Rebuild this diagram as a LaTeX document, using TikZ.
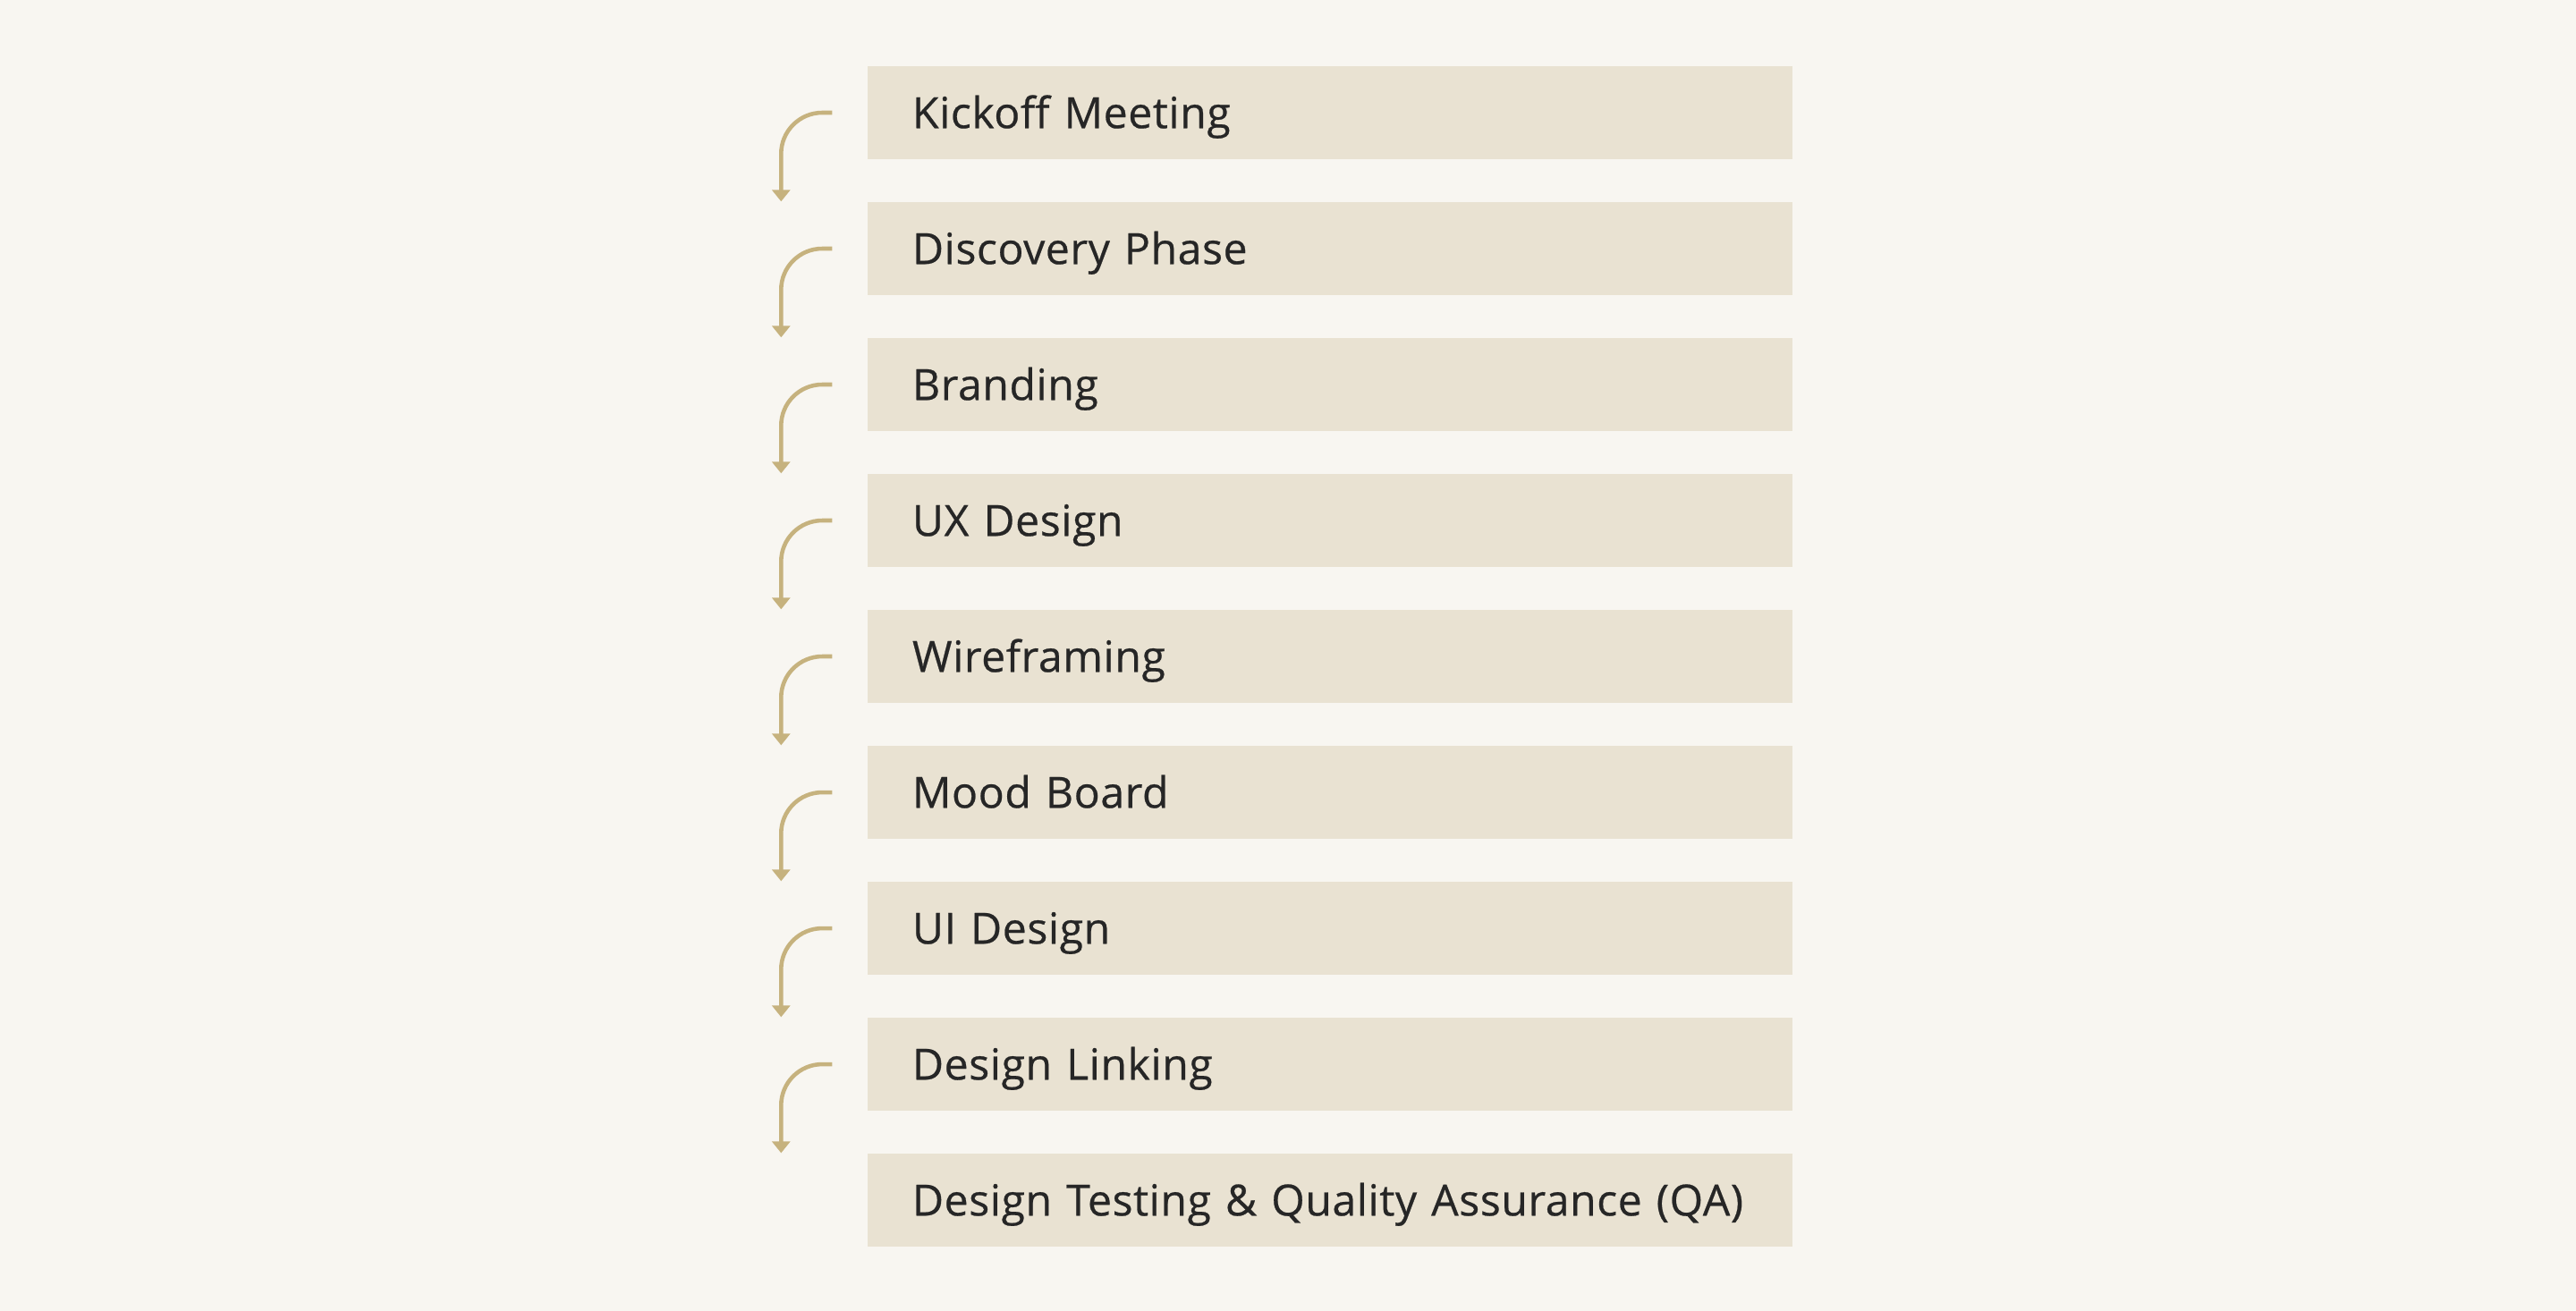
\documentclass[tikz,border=0pt]{standalone}
\usepackage{fontspec}
\setmainfont{Open Sans}[LetterSpace=1.2, FakeBold=0.5]
\usetikzlibrary{positioning, arrows.meta}
\definecolor{paper}{HTML}{F8F6F1}
\definecolor{sand}{HTML}{E9E2D2}
\definecolor{gold}{HTML}{C6B27E}
\definecolor{ink}{HTML}{262626}
\tikzstyle{phase} = [rectangle, fill=sand, text=ink, text width=9.34cm, inner xsep=0.5cm, inner ysep=0pt, minimum height=1.04cm, align=left, text height=0.345cm, text depth=0pt, font=\fontsize{13.7}{16}\selectfont]
\tikzstyle{line} = [draw=gold, line width=1.3pt, -{Triangle[width=0.2cm, length=0.13cm]}]

\begin{document}
\begin{tikzpicture}[node distance = 0.466cm]
    \fill[paper] (0,0) rectangle (28.8,-14.66);

    \node[phase] at (14.87,-1.26) (kickoff){Kickoff Meeting};
    \node[phase, below=of kickoff](discovery){Discovery Phase};
    \node[phase, below=of discovery](branding){Branding};
    \node[phase, below=of branding](ux){UX Design};
    \node[phase, below=of ux](wire){Wireframing};
    \node[phase, below=of wire](mood){Mood Board};
    \node[phase, below=of mood](ui){UI Design};
    \node[phase, below=of ui](linking){Design Linking};
    \node[phase, below=of linking](testing){Design Testing \& Quality Assurance (QA)};

    \path[line] ([xshift=-0.39cm]kickoff.west) -- ++(-0.11,0) arc[start angle=90, end angle=180, radius=0.46] -- ([xshift=-0.96cm]discovery.north west);
    \path[line] ([xshift=-0.39cm]discovery.west) -- ++(-0.11,0) arc[start angle=90, end angle=180, radius=0.46] -- ([xshift=-0.96cm]branding.north west);
    \path[line] ([xshift=-0.39cm]branding.west) -- ++(-0.11,0) arc[start angle=90, end angle=180, radius=0.46] -- ([xshift=-0.96cm]ux.north west);
    \path[line] ([xshift=-0.39cm]ux.west) -- ++(-0.11,0) arc[start angle=90, end angle=180, radius=0.46] -- ([xshift=-0.96cm]wire.north west);
    \path[line] ([xshift=-0.39cm]wire.west) -- ++(-0.11,0) arc[start angle=90, end angle=180, radius=0.46] -- ([xshift=-0.96cm]mood.north west);
    \path[line] ([xshift=-0.39cm]mood.west) -- ++(-0.11,0) arc[start angle=90, end angle=180, radius=0.46] -- ([xshift=-0.96cm]ui.north west);
    \path[line] ([xshift=-0.39cm]ui.west) -- ++(-0.11,0) arc[start angle=90, end angle=180, radius=0.46] -- ([xshift=-0.96cm]linking.north west);
    \path[line] ([xshift=-0.39cm]linking.west) -- ++(-0.11,0) arc[start angle=90, end angle=180, radius=0.46] -- ([xshift=-0.96cm]testing.north west);
\end{tikzpicture}
\end{document}
